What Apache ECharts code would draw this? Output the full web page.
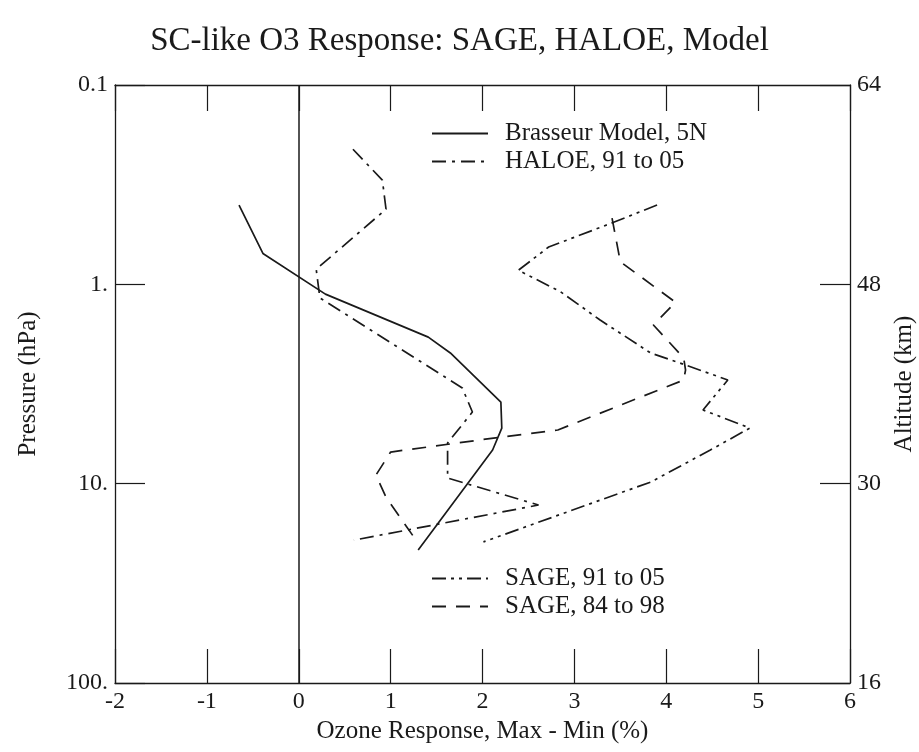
<!DOCTYPE html>
<html>
<head>
<meta charset="utf-8">
<script src="https://cdn.jsdelivr.net/npm/echarts@6/dist/echarts.min.js"></script>
<style>
  html, body { margin: 0; padding: 0; background: #fff; }
  #chart { width: 919px; height: 752px; }
</style>
</head>
<body>
<div id="chart"></div>
<script>
  // axis ticks
  const pressureTicks = [0.1, 1, 10, 100]
  const pressureLabels = ['0.1', '1.', '10.', '100.']
  const altitudeLabels = ['64', '48', '30', '16']

  // Brasseur model, 5N (solid)
  const brasseurX = [-0.65, -0.39, 0.29, 1.41, 1.65, 2.20, 2.21, 2.11, 1.30]
  const brasseurP = [0.40, 0.70, 1.12, 1.84, 2.21, 3.90, 5.26, 6.78, 21.5]

  // HALOE, 91 to 05 (dash-dot)
  const haloeX = [0.59, 0.91, 0.95, 0.19, 0.23, 1.78, 1.89, 1.62, 1.62, 2.61, 0.60]
  const haloeP = [0.21, 0.30, 0.42, 0.84, 1.17, 3.31, 4.37, 6.25, 9.37, 12.8, 19.2]

  // SAGE, 91 to 05 (dash-dot-dot)
  const sage9105X = [3.90, 3.42, 2.72, 2.39, 2.85, 3.28, 3.83, 4.21, 4.67, 4.40, 4.91, 4.48, 3.83, 2.01]
  const sage9105P = [0.40, 0.49, 0.65, 0.85, 1.09, 1.51, 2.21, 2.54, 3.02, 4.27, 5.26, 6.78, 9.82, 19.6]

  // SAGE, 84 to 98 (dashed)
  const sage8498X = [3.41, 3.50, 4.10, 3.86, 4.19, 4.21, 4.19, 2.82, 2.20, 1.00, 0.84, 0.95, 1.29]
  const sage8498P = [0.465, 0.77, 1.23, 1.60, 2.34, 2.69, 3.02, 5.38, 5.84, 6.94, 9.06, 11.7, 19.6]

  const ink = '#1a1a1a'
  const serif = 'Liberation Serif, DejaVu Serif, serif'

  function pairs (xs, ps) {
    return xs.map((x, i) => [x, ps[i]])
  }

  function tickIndex (v) {
    return pressureTicks.findIndex(t => Math.abs(Math.log10(t) - Math.log10(v)) < 1e-6)
  }

  function makeSeries (name, xs, ps, dash) {
    return {
      name: name,
      type: 'line',
      data: pairs(xs, ps),
      symbol: 'none',
      animation: false,
      lineStyle: { color: ink, width: 1.7, type: dash },
      itemStyle: { color: ink }
    }
  }

  const series = [
    makeSeries('Brasseur Model, 5N', brasseurX, brasseurP, 'solid'),
    makeSeries('HALOE, 91 to 05', haloeX, haloeP, [14, 6, 3, 6]),
    makeSeries('SAGE, 91 to 05', sage9105X, sage9105P, [14, 5, 3, 5, 3, 5]),
    makeSeries('SAGE, 84 to 98', sage8498X, sage8498P, [14, 10])
  ]
  // vertical zero line
  series[0].markLine = {
    silent: true,
    symbol: 'none',
    animation: false,
    label: { show: false },
    lineStyle: { color: ink, width: 1.5, type: 'solid' },
    data: [{ xAxis: 0 }]
  }

  const legendText = { fontSize: 25, fontFamily: serif, color: ink, padding: [0, 0, 0, 12] }
  const tickFont = { fontSize: 24, fontFamily: serif, color: ink }
  const nameFont = { fontSize: 25, fontFamily: serif, color: ink }

  function legendBlock (names, top) {
    return {
      data: names,
      orient: 'vertical',
      left: 426,
      top: top,
      itemWidth: 56,
      itemHeight: 2,
      itemGap: 3,
      selectedMode: false,
      itemStyle: { opacity: 0, borderWidth: 0 },
      textStyle: legendText
    }
  }

  let myChart = echarts.init(document.getElementById('chart'))
  myChart.setOption({
    backgroundColor: '#fff',
    animation: false,
    title: {
      text: 'SC-like O3 Response: SAGE, HALOE, Model',
      left: 'center',
      top: 20,
      textStyle: { fontSize: 33, fontWeight: 'normal', fontFamily: serif, color: ink }
    },
    legend: [
      legendBlock(['Brasseur Model, 5N', 'HALOE, 91 to 05'], 116),
      legendBlock(['SAGE, 91 to 05', 'SAGE, 84 to 98'], 561)
    ],
    grid: {
      left: 115,
      right: 69,
      top: 85,
      bottom: 69,
      outerBoundsMode: 'none'
    },
    xAxis: [
      {
        type: 'value',
        min: -2,
        max: 6,
        interval: 1,
        position: 'bottom',
        name: 'Ozone Response, Max - Min (%)',
        nameLocation: 'middle',
        nameGap: 33,
        nameTextStyle: nameFont,
        axisLine: { onZero: false, lineStyle: { color: ink, width: 1.3 } },
        axisTick: { inside: true, length: 34, lineStyle: { color: ink, width: 1.2 } },
        axisLabel: Object.assign({ margin: 7 }, tickFont),
        splitLine: { show: false }
      },
      {
        type: 'value',
        min: -2,
        max: 6,
        interval: 1,
        position: 'top',
        axisLine: { onZero: false, lineStyle: { color: ink, width: 1.3 } },
        axisTick: { inside: true, length: 26, lineStyle: { color: ink, width: 1.2 } },
        axisLabel: { show: false },
        splitLine: { show: false }
      }
    ],
    yAxis: [
      {
        type: 'log',
        logBase: 10,
        min: 0.1,
        max: 100,
        inverse: true,
        position: 'left',
        name: 'Pressure (hPa)',
        nameLocation: 'middle',
        nameGap: 74,
        nameRotate: 90,
        nameTextStyle: nameFont,
        axisLine: { onZero: false, lineStyle: { color: ink, width: 1.3 } },
        axisTick: { inside: true, length: 30, lineStyle: { color: ink, width: 1.2 } },
        axisLabel: Object.assign({
          margin: 7,
          formatter: function (v) {
            let i = tickIndex(v)
            return i >= 0 ? pressureLabels[i] : ''
          }
        }, tickFont),
        splitLine: { show: false }
      },
      {
        type: 'log',
        logBase: 10,
        min: 0.1,
        max: 100,
        inverse: true,
        position: 'right',
        name: 'Altitude (km)',
        nameLocation: 'middle',
        nameGap: 38,
        nameRotate: 90,
        nameTextStyle: nameFont,
        axisLine: { onZero: false, lineStyle: { color: ink, width: 1.3 } },
        axisTick: { inside: true, length: 30, lineStyle: { color: ink, width: 1.2 } },
        axisLabel: Object.assign({
          margin: 7,
          formatter: function (v) {
            let i = tickIndex(v)
            return i >= 0 ? altitudeLabels[i] : ''
          }
        }, tickFont),
        splitLine: { show: false }
      }
    ],
    series: series
  })
  window.addEventListener('resize', function () {
    myChart.resize()
  })
</script>
</body>
</html>
